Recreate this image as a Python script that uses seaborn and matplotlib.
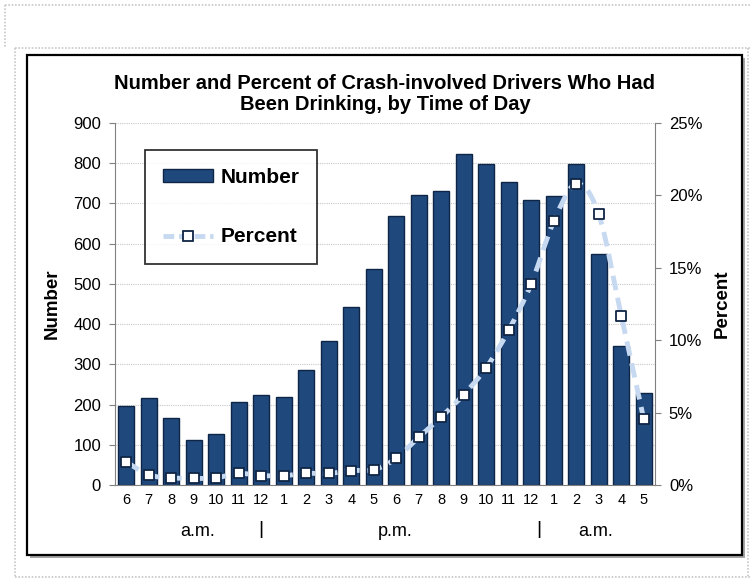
import matplotlib
matplotlib.use("Agg")
import matplotlib.pyplot as plt
from matplotlib.patches import Rectangle, Patch, PathPatch
from matplotlib.path import Path
from matplotlib.lines import Line2D
from matplotlib.ticker import FuncFormatter, MultipleLocator
import seaborn as sns
import pandas as pd
import numpy as np

hours = ["6", "7", "8", "9", "10", "11", "12", "1", "2", "3", "4", "5",
         "6", "7", "8", "9", "10", "11", "12", "1", "2", "3", "4", "5"]
number = [197, 216, 166, 112, 127, 206, 223, 219, 287, 359, 443, 537,
          668, 722, 732, 822, 799, 753, 709, 719, 799, 574, 346, 229]
percent = [1.6, 0.7, 0.5, 0.45, 0.5, 0.8, 0.65, 0.65, 0.8, 0.8, 1.0, 1.05,
           1.85, 3.3, 4.7, 6.25, 8.1, 10.7, 13.9, 18.2, 20.8, 18.7, 11.7, 4.55]
periods = ["a.m.", "p.m.", "a.m."]

bar_color = "#1f497d"
edge_color = "#0f2545"
line_color = "#c6d9f1"

df = pd.DataFrame({"slot": range(len(hours)), "number": number, "percent": percent})

sns.set_style("white")
plt.rcParams["font.family"] = ["Liberation Sans", "DejaVu Sans"]
plt.rcParams["text.color"] = "black"
plt.rcParams["axes.labelcolor"] = "black"

fig = plt.figure(figsize=(7.51, 5.8), dpi=100)
W, H = 751, 580

def fx(px):
    return px / W

def fy(py):
    return 1 - py / H

# slide placeholder dotted borders
dot = dict(color="#c8c8c8", lw=1.2, ls=(0, (1, 1)), transform=fig.transFigure, zorder=-5)
fig.add_artist(Line2D([fx(5), fx(751)], [fy(5), fy(5)], **dot))
fig.add_artist(Line2D([fx(5), fx(5)], [fy(5), fy(48)], **dot))
fig.add_artist(Line2D([fx(15), fx(751)], [fy(48), fy(48)], **dot))
fig.add_artist(Line2D([fx(15), fx(15)], [fy(48), fy(577)], **dot))
fig.add_artist(Line2D([fx(15), fx(751)], [fy(577), fy(577)], **dot))
fig.add_artist(Line2D([fx(748), fx(748)], [fy(48), fy(577)], **dot))

# chart box with shadow
fig.add_artist(Rectangle((fx(30), fy(558)), fx(715), 500 / H, facecolor="#a6a6a6",
                         edgecolor="none", transform=fig.transFigure, zorder=-4))
fig.add_artist(Rectangle((fx(27), fy(555)), fx(715), 500 / H, facecolor="white",
                         edgecolor="black", lw=1.6, transform=fig.transFigure, zorder=-3))

ax = fig.add_axes([fx(115), fy(485), fx(540), 362 / H])
ax.set_facecolor("none")
sns.barplot(data=df, x="slot", y="number", color=bar_color, edgecolor=edge_color,
            linewidth=1.0, width=0.7, saturation=1, ax=ax, zorder=2)
ax.set_xlim(-0.5, len(hours) - 0.5)
ax.set_ylim(0, 900)
ax.yaxis.set_major_locator(MultipleLocator(100))
ax.grid(axis="y", color="#c8c8c8", lw=0.8, ls=(0, (1, 1)), zorder=0)
ax.set_axisbelow(True)

ax.set_xticks(np.arange(-0.5, len(hours), 1))
ax.set_xticklabels([])
ax.set_xticks(range(len(hours)), minor=True)
ax.set_xticklabels(hours, minor=True, fontsize=10.5)
ax.tick_params(axis="x", which="major", direction="out", length=4, color="#808080", width=0.8)
ax.tick_params(axis="x", which="minor", length=0, pad=6, labelcolor="black")
ax.tick_params(axis="y", direction="out", length=4, color="#808080", width=0.8,
               labelsize=12, pad=6, labelcolor="black")
for s in ["top", "right"]:
    ax.spines[s].set_visible(False)
ax.spines["left"].set_color("#808080")
ax.spines["bottom"].set_color("#808080")
ax.set_xlabel("")
ax.set_ylabel("Number", fontsize=13.5, fontweight="bold", labelpad=9)

ax2 = ax.twinx()

# smoothed dashed line (Excel style "smoothed line") drawn as bezier path
xs = df["slot"].to_numpy(float)
ys = df["percent"].to_numpy(float)
pts = np.column_stack([xs, ys])
ext = np.vstack([pts[0], pts, pts[-1]])
verts = [pts[0]]
codes = [Path.MOVETO]
for i in range(len(pts) - 1):
    p0, p1, p2, p3 = ext[i], ext[i + 1], ext[i + 2], ext[i + 3]
    verts += [p1 + (p2 - p0) / 6, p2 - (p3 - p1) / 6, p2]
    codes += [Path.CURVE4] * 3
ax2.add_patch(PathPatch(Path(verts, codes), facecolor="none", edgecolor=line_color,
                        lw=3.5, ls=(0, (3, 1.6)), zorder=3))

sns.scatterplot(data=df, x="slot", y="percent", ax=ax2, marker="s", s=45,
                color="white", edgecolor=edge_color, linewidth=1.3, zorder=4)
ax2.set_ylim(0, 25)
ax2.yaxis.set_major_locator(MultipleLocator(5))
ax2.yaxis.set_major_formatter(FuncFormatter(lambda v, p: f"{v:.0f}%"))
ax2.tick_params(axis="y", direction="out", length=4, color="#808080", width=0.8,
                labelsize=12, pad=6, labelcolor="black")
for s in ["top", "left", "bottom"]:
    ax2.spines[s].set_visible(False)
ax2.spines["right"].set_color("#808080")
ax2.set_xlabel("")
ax2.set_ylabel("Percent", fontsize=13.5, fontweight="bold", labelpad=8)
ax2.set_xlim(-0.5, len(hours) - 0.5)

ax.set_title("Number and Percent of Crash-involved Drivers Who Had\nBeen Drinking, by Time of Day",
             fontsize=14.5, fontweight="bold", pad=9, linespacing=1.15, color="black")

handles = [
    Patch(facecolor=bar_color, edgecolor=edge_color, lw=1.0),
    Line2D([0], [0], color=line_color, lw=3.5, ls=(0, (2.2, 1)), marker="s", ms=6.5,
           mfc="white", mec=edge_color, mew=1.3),
]
leg = ax2.legend(handles, ["Number", "Percent"], loc="upper left",
                 bbox_to_anchor=(0.056, 0.925), frameon=True, fancybox=False,
                 prop=dict(size=15, weight="bold"), labelspacing=1.95,
                 handlelength=2.4, handleheight=0.6, borderpad=0.85,
                 handletextpad=0.35, borderaxespad=0)
leg.get_frame().set_edgecolor("black")
leg.get_frame().set_linewidth(1.3)

# period labels under the hours
for label, xpix in zip(periods, [198, 395, 596]):
    fig.text(fx(xpix), fy(531), label, ha="center", va="center", fontsize=13)
for xpix in [261, 539]:
    fig.text(fx(xpix), fy(530), "|", ha="center", va="center", fontsize=14)

fig.savefig("out.png", dpi=100, facecolor="white")
